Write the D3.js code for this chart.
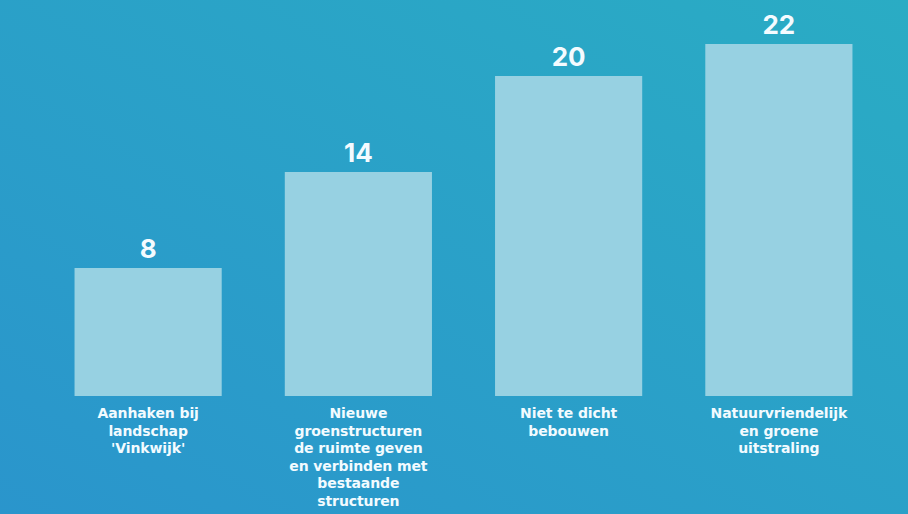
<!DOCTYPE html>
<html>
<head>
<meta charset="utf-8">
<script src="https://cdn.jsdelivr.net/npm/d3@7"></script>
<style>
  html, body { margin: 0; padding: 0; overflow: hidden; background: #2aa0c8; }
  svg { display: block; }
</style>
</head>
<body>
<svg id="chart" width="908" height="514"></svg>
<script>
const categories = [
  "Aanhaken bij\nlandschap\n'Vinkwijk'",
  "Nieuwe\ngroenstructuren\nde ruimte geven\nen verbinden met\nbestaande\nstructuren",
  "Niet te dicht\nbebouwen",
  "Natuurvriendelijk\nen groene\nuitstraling"
];
const values = [8, 14, 20, 22];

const W = 908, H = 514;
const svg = d3.select("#chart");

const defs = svg.append("defs");
const grad = defs.append("linearGradient")
  .attr("id", "bg").attr("x1", "0%").attr("y1", "100%").attr("x2", "100%").attr("y2", "0%");
grad.append("stop").attr("offset", "0%").attr("stop-color", "#2a95cc");
grad.append("stop").attr("offset", "100%").attr("stop-color", "#2aacc4");
const glow = defs.append("filter").attr("id", "glow").attr("x", "-5%").attr("y", "-200%").attr("width", "110%").attr("height", "500%");
glow.append("feGaussianBlur").attr("stdDeviation", 1.2).attr("result", "b");
const fm = glow.append("feMerge");
fm.append("feMergeNode").attr("in", "b");
fm.append("feMergeNode").attr("in", "SourceGraphic");

svg.append("rect").attr("width", W).attr("height", H).attr("fill", "url(#bg)");

const baseY = 396;
const x = d3.scaleBand().domain(categories).range([43, 884]).paddingInner(0.3).paddingOuter(0.15);
const y = d3.scaleLinear().domain([0, 22]).range([baseY, baseY - 22 * 16]);

svg.selectAll("rect.bar").data(values).enter().append("rect")
  .attr("class", "bar")
  .attr("x", (d, i) => x(categories[i]))
  .attr("y", d => y(d))
  .attr("width", x.bandwidth())
  .attr("height", d => y(0) - y(d))
  .attr("fill", "#97d1e2");

svg.selectAll("text.val").data(values).enter().append("text")
  .attr("class", "val")
  .attr("x", (d, i) => x(categories[i]) + x.bandwidth() / 2)
  .attr("y", d => y(d) - 10)
  .attr("text-anchor", "middle")
  .attr("font-family", "Inter, 'Open Sans', sans-serif")
  .attr("font-weight", 700)
  .attr("font-size", 26)
  .attr("fill", "#f4fbff")
  .text(d => d);

// axis line
svg.append("line")
  .attr("x1", 10).attr("x2", W).attr("y1", 398.5).attr("y2", 398.5)
  .attr("stroke", "#e6f9ff").attr("stroke-width", 2.5)
  .attr("filter", "url(#glow)");

// category labels
const lab = svg.selectAll("text.cat").data(categories).enter().append("text")
  .attr("class", "cat")
  .attr("x", d => x(d) + x.bandwidth() / 2)
  .attr("y", 418)
  .attr("text-anchor", "middle")
  .attr("font-family", "'DejaVu Sans', sans-serif")
  .attr("font-weight", 700)
  .attr("font-size", 14)
  .attr("letter-spacing", "-0.1px")
  .attr("fill", "#f2fbff");
lab.each(function(d) {
  const t = d3.select(this);
  d.split("\n").forEach((line, i) => {
    t.append("tspan").attr("x", x(d) + x.bandwidth() / 2).attr("dy", i === 0 ? 0 : 17.6).text(line);
  });
});
</script>
</body>
</html>
